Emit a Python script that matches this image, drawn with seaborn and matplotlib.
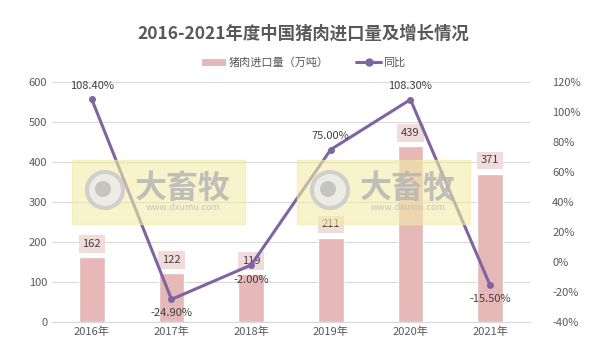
import matplotlib
matplotlib.use('Agg')
import matplotlib.pyplot as plt
import numpy as np
import pandas as pd
import seaborn as sns
from matplotlib.patches import Rectangle, Circle
from matplotlib.lines import Line2D

years = ['2016年', '2017年', '2018年', '2019年', '2020年', '2021年']
imports = [162, 122, 119, 211, 439, 371]
yoy = [108.40, -24.90, -2.00, 75.00, 108.30, -15.50]

sns.set_style('white')
plt.rcParams['font.family'] = ['Noto Sans CJK SC', 'DejaVu Sans']

bar_c = '#E6B8B7'
box_c = '#F2DCDB'
line_c = '#8064A2'
txt_c = '#595959'

df = pd.DataFrame({'year': years, 'imports': imports, 'yoy': yoy})

fig = plt.figure(figsize=(6.07, 3.52), dpi=100)
ax = fig.add_axes([0.0857, 0.0852, 0.7873, 0.6818])

ax.set_facecolor('none')
sns.barplot(data=df, x='year', y='imports', color=bar_c, width=0.32, ax=ax, saturation=1, zorder=2)
ax.set_ylim(0, 600)
ax.set_yticks(np.arange(0, 601, 100))
ax.grid(axis='y', color='#D9D9D9', linewidth=0.8, zorder=0)
ax.set_axisbelow(True)
ax.set_xlabel('')
ax.set_ylabel('')
for s in ['top', 'right', 'left']:
    ax.spines[s].set_visible(False)
ax.spines['bottom'].set_color('#D9D9D9')
ax.tick_params(colors=txt_c, labelsize=8, length=0)
ax.set_xlim(-0.5, 5.5)

for i, v in enumerate(imports):
    ax.text(i, v + 33, str(v), ha='center', va='center', fontsize=8, color='#404040', zorder=5,
            bbox=dict(boxstyle='square,pad=0.35', fc=box_c, ec='none'))

ax2 = ax.twinx()
sns.lineplot(data=df, x='year', y='yoy', color=line_c, linewidth=2.2, marker='o',
             markersize=5, markeredgewidth=0, ax=ax2, zorder=4)
ax2.set_ylim(-40, 120)
ax2.set_yticks(np.arange(-40, 121, 20))
ax2.set_yticklabels([f'{t}%' for t in range(-40, 121, 20)])
ax2.set_ylabel('')
for s in ax2.spines.values():
    s.set_visible(False)
ax2.tick_params(colors=txt_c, labelsize=8, length=0, pad=16)

offsets = [10, -10, -11, 10, 10, -10]
for i, (v, o) in enumerate(zip(yoy, offsets)):
    ax2.annotate(f'{v:.2f}%', (i, v), xytext=(0, o), textcoords='offset points',
                 ha='center', va='center', fontsize=8, color='#404040', zorder=6)

# watermark over the plot (pixel positions converted to inches so circles stay round)
for x0 in [72, 297]:
    fig.patches.append(Rectangle((x0 / 607, 1 - 224 / 352), 173 / 607, 64 / 352,
                                 transform=fig.transFigure, color='#F2EBA8', alpha=0.6, zorder=10))
    fig.patches.append(Circle(((x0 + 33) / 100, (352 - 190) / 100), 0.18,
                              transform=fig.dpi_scale_trans, fc='#EBEBEB', ec='#C8C8C8', lw=3,
                              alpha=0.8, zorder=11))
    fig.patches.append(Circle(((x0 + 31) / 100, (352 - 189) / 100), 0.08,
                              transform=fig.dpi_scale_trans, fc='#BDBDBD', ec='none',
                              alpha=0.85, zorder=12))
    fig.text((x0 + 111) / 607, 1 - 189 / 352, '大畜牧', fontsize=23, color='#B5B5B5',
             ha='center', va='center', fontweight='bold', alpha=0.85, zorder=12)
    fig.text((x0 + 111) / 607, 1 - 208 / 352, 'www.dxumu.com', fontsize=6.5, color='#BDBDBD',
             ha='center', va='center', alpha=0.85, zorder=12)

handles = [Rectangle((0, 0), 1, 1, fc=bar_c, ec='none'),
           Line2D([0], [0], color=line_c, lw=2.2, marker='o', markersize=5)]
fig.legend(handles, ['猪肉进口量（万吨）', '同比'], loc='center', bbox_to_anchor=(0.5, 1 - 63 / 352),
           ncol=2, frameon=False, fontsize=8, labelcolor=txt_c, handlelength=2.2, columnspacing=2.5,
           handletextpad=0.2)

fig.text(0.5, 1 - 34 / 352, '2016-2021年度中国猪肉进口量及增长情况', ha='center', va='center',
         fontsize=12.5, fontweight='bold', color=txt_c)

plt.savefig('out.png', dpi=100)
